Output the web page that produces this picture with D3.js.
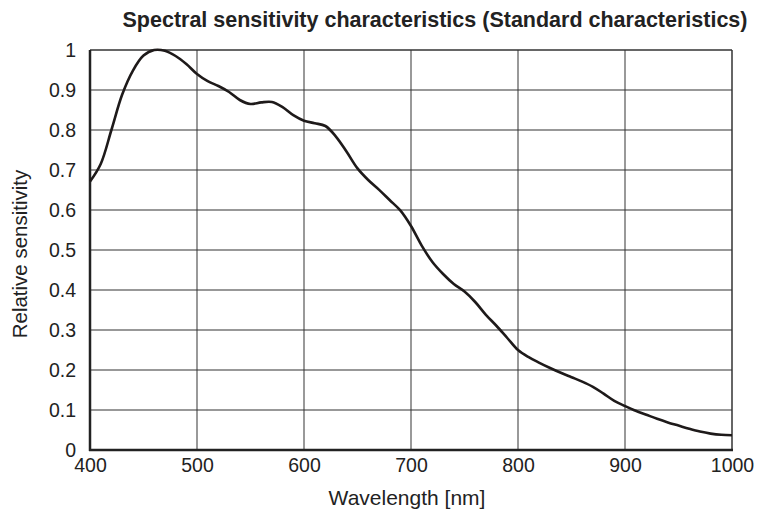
<!DOCTYPE html>
<html>
<head>
<meta charset="utf-8">
<script src="https://cdn.jsdelivr.net/npm/d3@7"></script>
<style>
  body { margin: 0; background: #fff; }
  text { font-family: "Liberation Sans", Arial, sans-serif; fill: #222; }
</style>
</head>
<body>
<script>
const m = { width: 760, height: 521, left: 90, right: 28, top: 50, bottom: 71 }

// wavelength [nm] and relative sensitivity
const wavelengths = [400, 410, 420, 430, 440, 450, 460, 470, 480, 490,
    500, 510, 520, 530, 540, 550, 560, 570, 580, 590,
    600, 610, 620, 630, 640, 650, 660, 670, 680, 690,
    700, 710, 720, 730, 740, 750, 760, 770, 780, 790,
    800, 810, 820, 830, 840, 850, 860, 870, 880, 890,
    900, 910, 920, 930, 940, 950, 960, 970, 980, 990, 1000]
const sensitivity = [0.671, 0.715, 0.80, 0.888, 0.948, 0.986, 1.0, 0.998, 0.985, 0.965,
    0.94, 0.922, 0.91, 0.895, 0.875, 0.865, 0.869, 0.870, 0.857, 0.837,
    0.823, 0.817, 0.81, 0.783, 0.745, 0.704, 0.675, 0.651, 0.625, 0.599,
    0.56, 0.511, 0.47, 0.44, 0.415, 0.396, 0.37, 0.338, 0.31, 0.28,
    0.25, 0.232, 0.218, 0.205, 0.193, 0.182, 0.171, 0.158, 0.141, 0.123,
    0.11, 0.098, 0.088, 0.078, 0.069, 0.061, 0.053, 0.046, 0.041, 0.038, 0.037]

const xTicks = [400, 500, 600, 700, 800, 900, 1000]
const yTicks = [0, 0.1, 0.2, 0.3, 0.4, 0.5, 0.6, 0.7, 0.8, 0.9, 1]

const title = 'Spectral sensitivity characteristics (Standard characteristics)'
const xLabel = 'Wavelength [nm]'
const yLabel = 'Relative sensitivity'

const svg = d3.select('body').append('svg')
    .attr('width', m.width)
    .attr('height', m.height)

const x = d3.scaleLinear().domain([400, 1000]).range([m.left, m.width - m.right])
const y = d3.scaleLinear().domain([0, 1]).range([m.height - m.bottom, m.top])

const g = svg.append('g')

// grid
g.selectAll('.vgrid')
    .data(xTicks.slice(1, -1))
    .enter()
    .append('line')
    .attr('x1', d => x(d)).attr('x2', d => x(d))
    .attr('y1', y(0)).attr('y2', y(1))
    .attr('stroke', '#555')
    .attr('stroke-width', 1.2)

g.selectAll('.hgrid')
    .data(yTicks.slice(1, -1))
    .enter()
    .append('line')
    .attr('x1', x(400)).attr('x2', x(1000))
    .attr('y1', d => y(d)).attr('y2', d => y(d))
    .attr('stroke', '#333')
    .attr('stroke-width', 1.2)

// frame
g.append('line').attr('x1', x(400)).attr('x2', x(1000)).attr('y1', y(1)).attr('y2', y(1))
    .attr('stroke', '#333').attr('stroke-width', 1.5)
g.append('line').attr('x1', x(1000)).attr('x2', x(1000)).attr('y1', y(0)).attr('y2', y(1))
    .attr('stroke', '#333').attr('stroke-width', 1.5)
g.append('line').attr('x1', x(400)).attr('x2', x(400)).attr('y1', y(0) + 1).attr('y2', y(1))
    .attr('stroke', '#222').attr('stroke-width', 2.5)
g.append('line').attr('x1', x(400) - 1).attr('x2', x(1000) + 1).attr('y1', y(0)).attr('y2', y(0))
    .attr('stroke', '#222').attr('stroke-width', 2.5)

// axes labels (tick text only)
const xAxis = d3.axisBottom(x).tickValues(xTicks).tickSize(0).tickPadding(5).tickFormat(d3.format('d'))
const yAxis = d3.axisLeft(y).tickValues(yTicks).tickSize(0).tickPadding(14).tickFormat(d => d === 0 || d === 1 ? d : d.toFixed(1))

const gx = svg.append('g').attr('transform', `translate(0,${y(0)})`).call(xAxis)
const gy = svg.append('g').attr('transform', `translate(${x(400)},0)`).call(yAxis)
gx.select('.domain').remove()
gy.select('.domain').remove()
svg.selectAll('.tick text')
    .attr('font-size', 19.5)
    .attr('fill', '#222')
gx.selectAll('.tick text').attr('dy', '0.85em')

// curve
const line = d3.line()
    .x((d, i) => x(wavelengths[i]))
    .y(d => y(d))
    .curve(d3.curveCatmullRom.alpha(0.5))

g.append('path')
    .datum(sensitivity)
    .attr('d', line)
    .attr('fill', 'none')
    .attr('stroke', '#1e1a1a')
    .attr('stroke-width', 2.6)

// titles
svg.append('text')
    .attr('x', 435).attr('y', 27)
    .attr('text-anchor', 'middle')
    .attr('font-size', 21.5)
    .attr('font-weight', 'bold')
    .text(title)

svg.append('text')
    .attr('x', 407).attr('y', 505)
    .attr('text-anchor', 'middle')
    .attr('font-size', 21)
    .text(xLabel)

svg.append('text')
    .attr('transform', `translate(27,254) rotate(-90)`)
    .attr('text-anchor', 'middle')
    .attr('font-size', 20.5)
    .text(yLabel)
</script>
</body>
</html>
